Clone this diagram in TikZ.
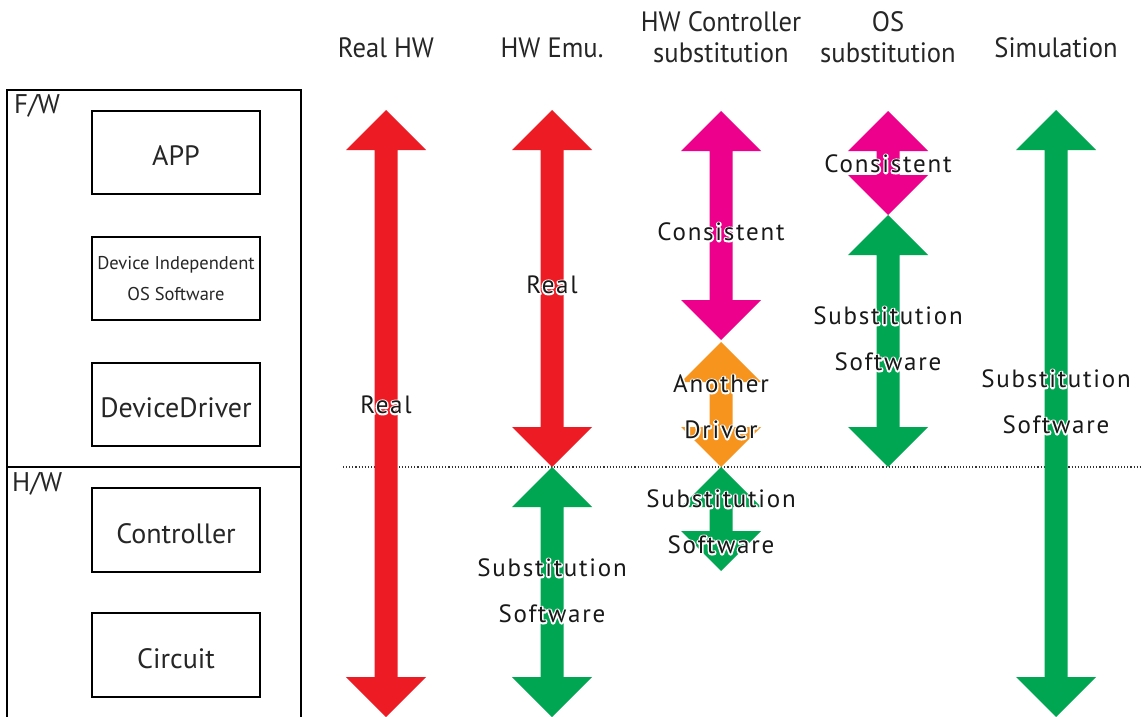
\documentclass[tikz,border=0pt]{standalone}
\usepackage{fontspec}
\setmainfont{PT Sans}
\newfontfamily\headfont[FakeStretch=0.95]{PT Sans}
\newfontfamily\lblfont[LetterSpace=7]{PT Sans}
\usetikzlibrary{calc}
\definecolor{arred}{HTML}{ED1C24}
\definecolor{argreen}{HTML}{00A651}
\definecolor{armag}{HTML}{EC008C}
\definecolor{arorange}{HTML}{F7941D}
% text with a white outline underneath (stroked copy, then normal copy)
\newcommand\haloed[1]{\leavevmode
  \special{pdf:literal q 2 Tr 1 1 1 RG 1 1 1 rg 3 w 1 j 1 J}%
  \rlap{#1}%
  \special{pdf:literal Q}%
  #1}
% double-headed block arrow between two named coordinates (top, bottom)
\newcommand\blockarrow[3]{%
  \fill[#1] let \p1=(#2), \p2=(#3) in
    (\x1,\y1) -- (\x1+40pt,\y1-40pt) -- (\x1+11.5pt,\y1-40pt)
    -- (\x1+11.5pt,\y2+40pt) -- (\x1+40pt,\y2+40pt) -- (\x2,\y2)
    -- (\x1-40pt,\y2+40pt) -- (\x1-11.5pt,\y2+40pt)
    -- (\x1-11.5pt,\y1-40pt) -- (\x1-40pt,\y1-40pt) -- cycle;}
\tikzset{
  layerbox/.style={draw, line width=1.2pt, minimum width=168pt, inner sep=0pt,
    font=\fontsize{28}{30}\selectfont, text=black!85},
  onelinebox/.style={layerbox, text height=30pt, text depth=4pt},
  head/.style={font=\headfont\fontsize{28}{31}\selectfont, text=black!85, align=center},
  lbl/.style={font=\lblfont\fontsize{25}{46}\selectfont, text=black!90, align=center, inner sep=0pt},
  tag/.style={font=\fontsize{27}{30}\selectfont, text=black!85, anchor=west, inner sep=0pt},
}
\begin{document}
\begin{tikzpicture}[x=1pt,y=-1pt]
\useasboundingbox (0,0) rectangle (1141,717);
\clip (0,0) rectangle (1141,717);

% left side: firmware / hardware stack
\draw[line width=1.5pt] (7,90) rectangle (301,467);
\draw[line width=1.5pt] (7,467) rectangle (301,740);
\node[tag] (fw) at (14,106) {F/W};
\node[tag] (hw) at (12,484) {H/W};
\node[onelinebox, minimum height=83pt] (app) at (176,152.5) {APP};
\node[layerbox, minimum height=83pt, align=center,
      font=\fontsize{18.5}{31}\selectfont] (dios) at (176,278.5) {Device Independent\\OS Software};
\node[onelinebox, minimum height=83pt] (drv) at (176,404.5) {DeviceDriver};
\node[onelinebox, minimum height=84pt] (ctl) at (176,530) {Controller};
\node[onelinebox, minimum height=84pt] (cir) at (176,655) {Circuit};

% column headings
\node[head] (h1) at (386,48) {Real HW};
\node[head] (h2) at (552,48) {HW Emu.};
\node[head] (h3) at (721,37) {HW Controller\\substitution};
\node[head] (h4) at (888,37) {OS\\substitution};
\node[head] (h5) at (1056,48) {Simulation};

% F/W -- H/W boundary
\coordinate (bl) at (343,467);
\coordinate (br) at (1141,467);
\draw[dotted, line width=1.1pt, black!80] (bl) -- (br);

% arrow end points
\coordinate (a1t) at (386,110);  \coordinate (a1b) at (386,717);
\coordinate (a2t) at (552,110);  \coordinate (a2m) at (552,467);  \coordinate (a2b) at (552,717);
\coordinate (a3t) at (721,111);  \coordinate (a3m) at (721,340);
\coordinate (a3o) at (721,342);  \coordinate (a3n) at (721,467);  \coordinate (a3b) at (721,571);
\coordinate (a4t) at (888,111);  \coordinate (a4m) at (888,215);  \coordinate (a4b) at (888,467);
\coordinate (a5t) at (1056,110); \coordinate (a5b) at (1056,717);

% block arrows
\blockarrow{arred}{a1t}{a1b}
\blockarrow{arred}{a2t}{a2m}
\blockarrow{argreen}{a2m}{a2b}
\blockarrow{armag}{a3t}{a3m}
\blockarrow{arorange}{a3o}{a3n}
\blockarrow{argreen}{a3n}{a3b}
\blockarrow{armag}{a4t}{a4m}
\blockarrow{argreen}{a4m}{a4b}
\blockarrow{argreen}{a5t}{a5b}

% arrow labels
\node[lbl] (l1) at (386,405) {\haloed{Real}};
\node[lbl] (l2) at (552,285) {\haloed{Real}};
\node[lbl] (l3) at (552,591) {\haloed{Substitution}\\\haloed{Software}};
\node[lbl] (l4) at (721,232) {\haloed{Consistent}};
\node[lbl] (l5) at (721,407) {\haloed{Another}\\\haloed{Driver}};
\node[lbl] (l6) at (721,522) {\haloed{Substitution}\\\haloed{Software}};
\node[lbl] (l7) at (888,164) {\haloed{Consistent}};
\node[lbl] (l8) at (888,339) {\haloed{Substitution}\\\haloed{Software}};
\node[lbl] (l9) at (1056,402) {\haloed{Substitution}\\\haloed{Software}};
\end{tikzpicture}
\end{document}
